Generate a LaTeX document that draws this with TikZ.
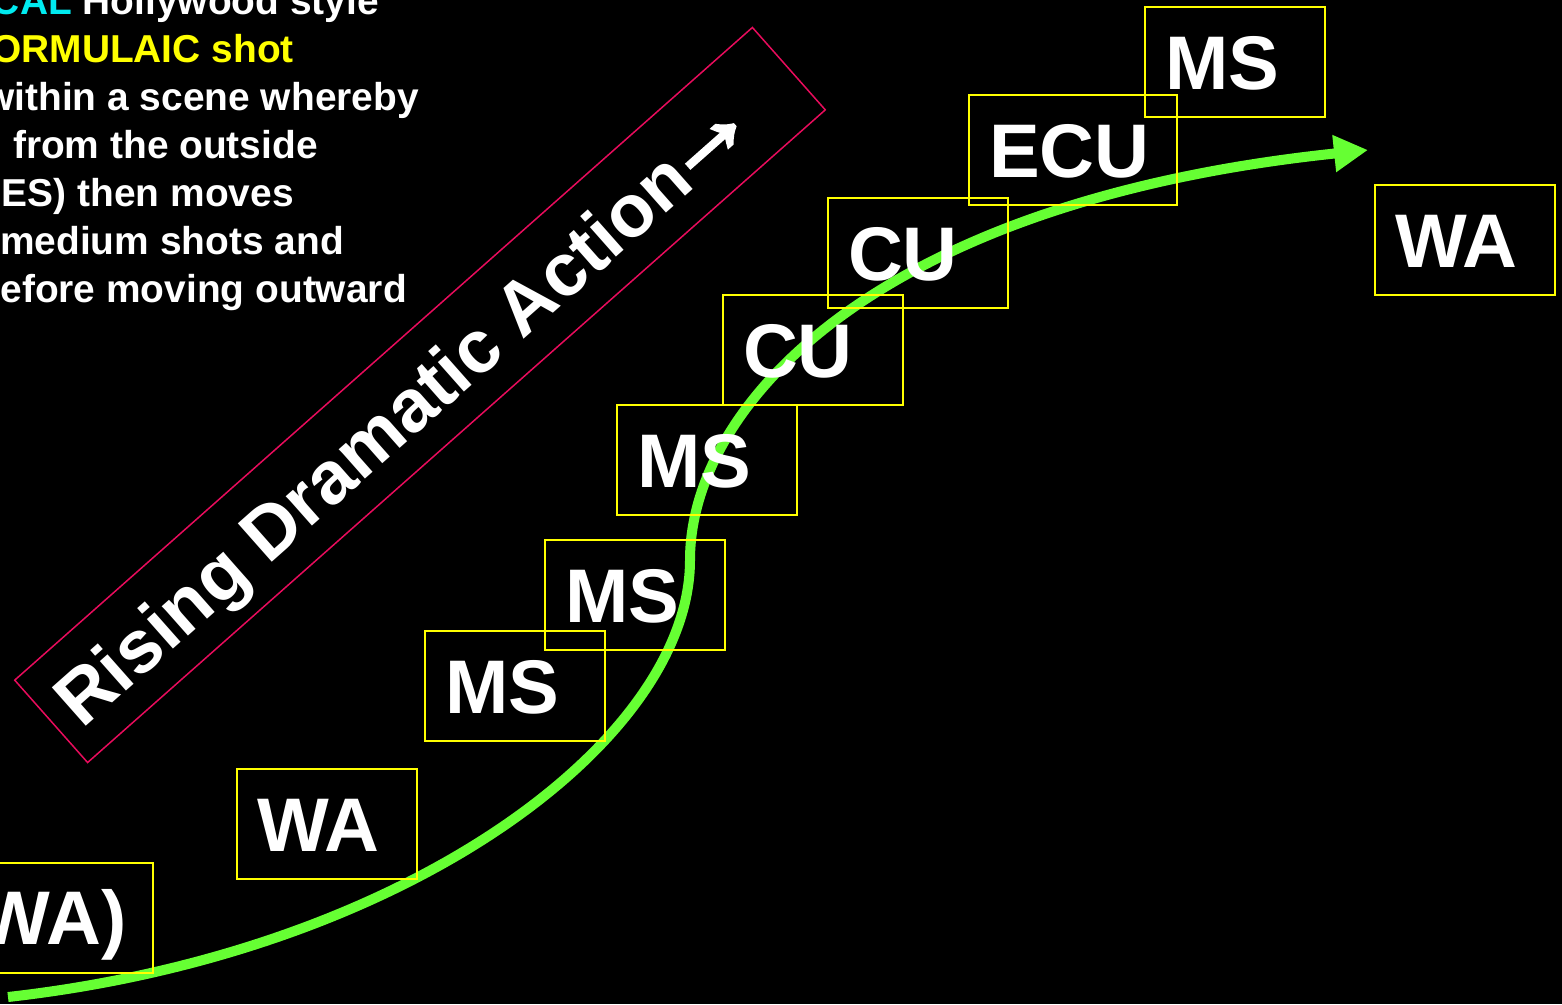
\documentclass[tikz,border=0pt]{standalone}
\usepackage{fontspec}
\usepackage{graphicx}
\setmainfont{Liberation Sans}
\newfontfamily\arrowfont[FakeBold=4]{Liberation Sans}
\usetikzlibrary{arrows.meta}
\definecolor{shotyellow}{RGB}{255,255,0}
\definecolor{arcgreen}{RGB}{102,255,51}
\definecolor{riseRed}{RGB}{232,12,92}
\definecolor{typcyan}{RGB}{0,235,240}
\begin{document}
\begin{tikzpicture}[x=1pt,y=-1pt,
  shot/.style={draw=shotyellow, line width=2pt, minimum height=110pt,
    inner xsep=20pt, inner ysep=0pt, text height=54pt, text depth=0pt,
    align=left, text=white, font=\fontsize{76}{80}\selectfont\bfseries},
  bodyline/.style={anchor=base east, inner sep=0pt, text=white,
    font=\fontsize{38.9}{48}\selectfont\bfseries},
  risetext/.style={rotate=41.5, anchor=base west, inner sep=0pt, text=white,
    font=\fontsize{74.5}{80}\selectfont\bfseries}]
\useasboundingbox (0,0) rectangle (1562,1004);
\fill[black] (0,0) rectangle (1562,1004);
\begin{scope}
\clip (0,0) rectangle (1562,1004);

% explanatory text (cut off at the left edge)
\node[bodyline] (t1) at (379,14) {{\color{typcyan}CAL} Hollywood style};
\node[bodyline, text=shotyellow] (t2) at (294,62) {ORMULAIC shot};
\node[bodyline] (t3) at (419,110) {within a scene whereby};
\node[bodyline] (t4) at (318,158) {from the outside};
\node[bodyline] (t5) at (294,206) {ES) then moves};
\node[bodyline] (t6) at (344,254) {medium shots and};
\node[bodyline] (t7) at (407,302) {efore moving outward};

% rising dramatic action label
\node[draw=riseRed, line width=1.5pt, rotate=41.5, minimum width=985pt,
      minimum height=110pt, inner sep=0pt] (risebox) at (420,395) {};
\node[risetext] (riselabel) at (82.5,729.8)
  {Rising Dramatic Action\kern-12pt\raisebox{4pt}{\scalebox{1.35}{\arrowfont\bfseries →}}};

% green arc
\coordinate (arcstart) at (8,997);
\coordinate (arcmid) at (690,560);
\coordinate (arcend) at (1368,150);
\draw[arcgreen, line width=10pt, -{Triangle[length=34pt,width=35pt]}]
  (arcstart) .. controls (408,952) and (690,740) .. (arcmid)
             .. controls (690,410) and (868,202.5) .. (arcend);

% shot boxes
\node[shot, text width=154pt] (s0) at (56,917.5) {WA)};
\node[shot, text width=140pt] (s1) at (327,824) {WA};
\node[shot, text width=140pt] (s2) at (515,686) {MS};
\node[shot, text width=140pt] (s3) at (635,595) {MS};
\node[shot, text width=140pt] (s4) at (707,460) {MS};
\node[shot, text width=140pt] (s5) at (813,350) {CU};
\node[shot, text width=140pt] (s6) at (918,253) {CU};
\node[shot, text width=168pt] (s7) at (1073,150) {ECU};
\node[shot, text width=140pt] (s8) at (1235,62) {MS};
\node[shot, text width=140pt] (s9) at (1465,240) {WA};
\end{scope}
\end{tikzpicture}
\end{document}
